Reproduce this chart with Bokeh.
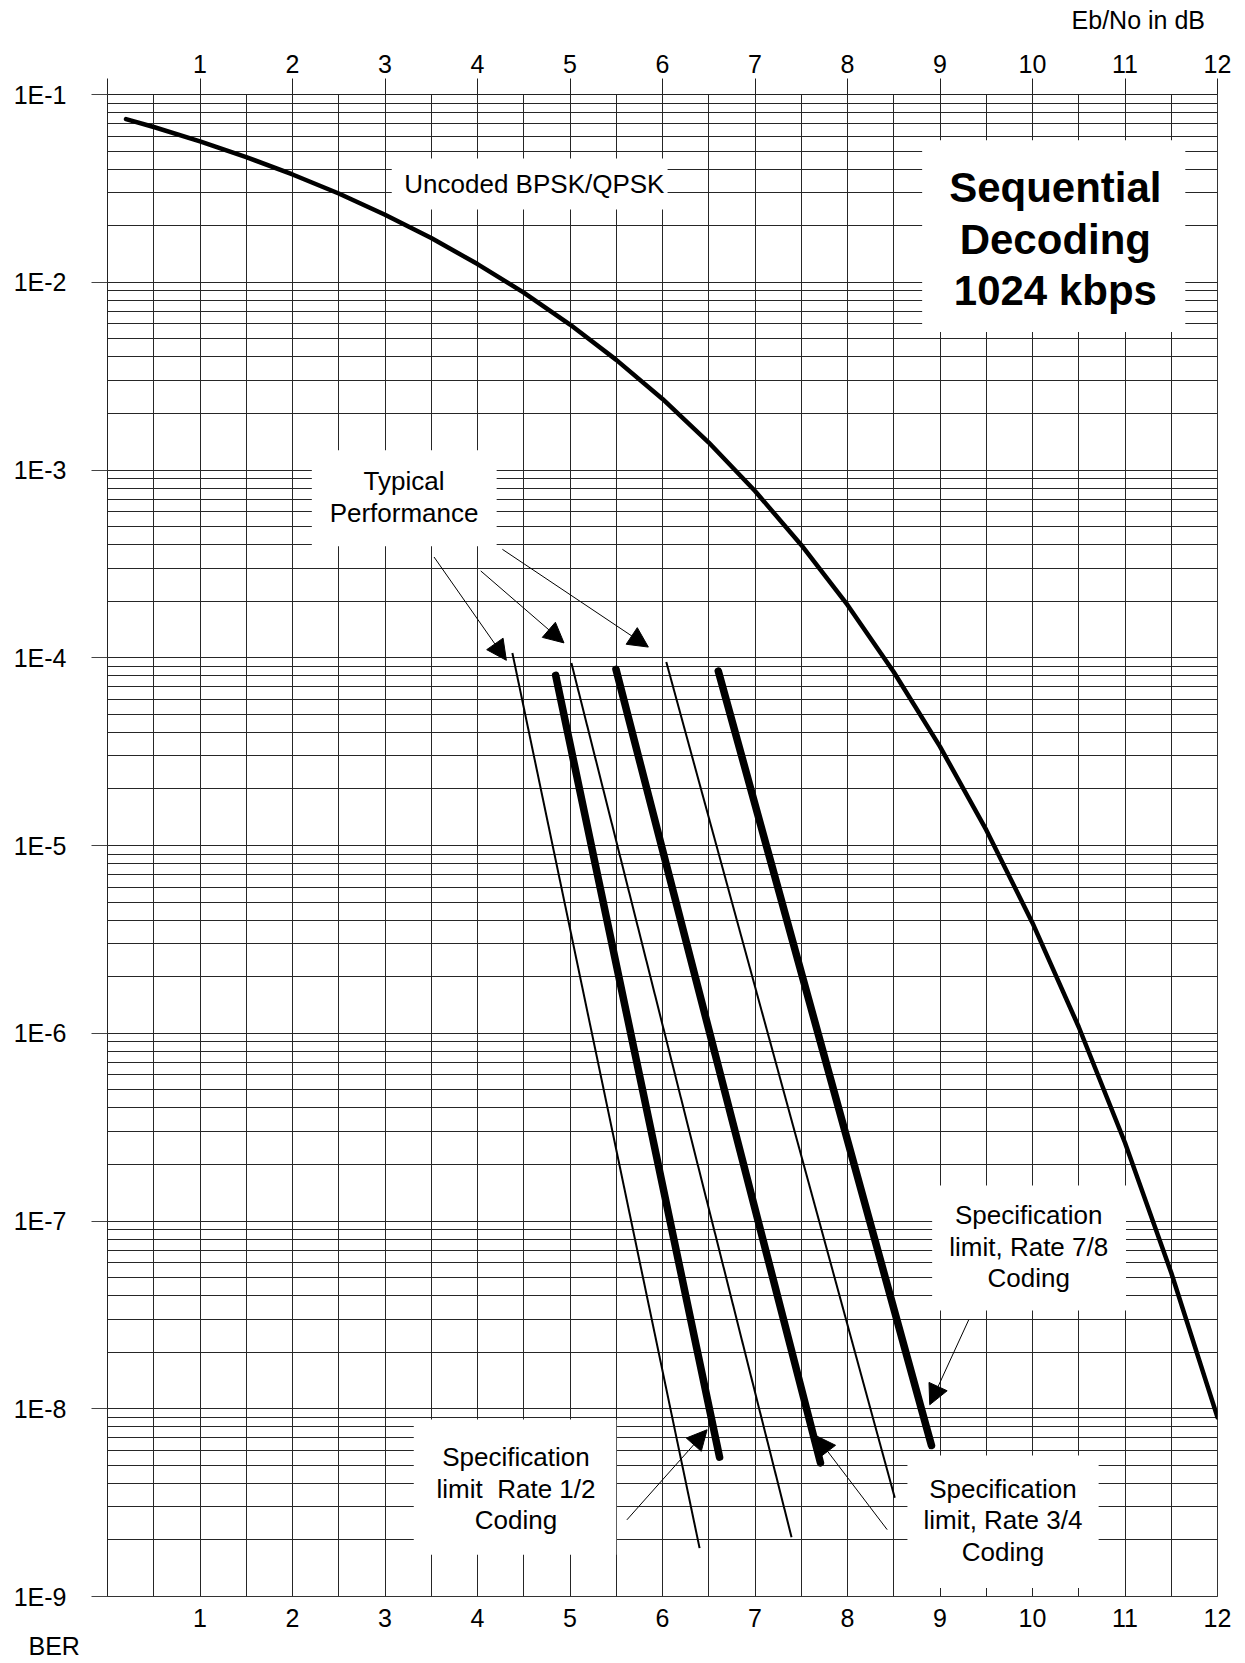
import numpy as np
from bokeh.plotting import figure
from bokeh.models import (FixedTicker, LinearAxis, Range1d, Label, Arrow, NormalHead,
                          BoxAnnotation, Title, ColumnDataSource)
from bokeh.embed import file_html
from bokeh.resources import INLINE

# ---------------- data ----------------
uncoded_ebno = [0.2, 0.5, 1.0, 1.5, 2.0, 2.5, 3.0, 3.5, 4.0, 4.5, 5.0, 5.5, 6.0,
                6.5, 7.0, 7.5, 8.0, 8.5, 9.0, 9.5, 10.0, 10.5, 11.0, 11.5, 12.0]
uncoded_ber = [7.4e-2, 6.71e-2, 5.63e-2, 4.64e-2, 3.75e-2, 2.97e-2, 2.29e-2, 1.72e-2,
               1.25e-2, 8.8e-3, 5.95e-3, 3.86e-3, 2.39e-3, 1.40e-3, 7.73e-4, 3.99e-4,
               1.91e-4, 8.4e-5, 3.36e-5, 1.21e-5, 3.87e-6, 1.08e-6, 2.61e-7, 5.3e-8, 9.0e-9]

# typical performance (thin lines)
typical_ebno = [[4.377, 6.401], [5.015, 7.395], [6.041, 8.511]]
typical_ber = [[1.06e-4, 1.81e-9], [9.38e-5, 2.07e-9], [9.48e-5, 3.36e-9]]

# specification limits (thick lines): rate 1/2, 3/4, 7/8
spec_ebno = [[4.845, 6.617], [5.497, 7.708], [6.603, 8.908]]
spec_ber = [[8.06e-5, 5.52e-9], [8.68e-5, 5.15e-9], [8.50e-5, 6.37e-9]]

x_ticks = list(range(0, 13))
x_minor = [i + 0.5 for i in range(12)]
y_ticks = [1e-9, 1e-8, 1e-7, 1e-6, 1e-5, 1e-4, 1e-3, 1e-2, 1e-1]
y_tick_labels = ["1E-9", "1E-8", "1E-7", "1E-6", "1E-5", "1E-4", "1E-3", "1E-2", "1E-1"]
y_minor = [m * d for d in y_ticks[:-1] for m in range(2, 10)]

x_title = "Eb/No in dB"
y_title = "BER"

# annotation boxes (white backgrounds) and texts
box_left = [3.073, 8.807, 2.209, 8.915, 3.311, 8.648]
box_right = [6.055, 11.652, 4.207, 11.011, 5.5, 10.715]
box_top = [0.0456, 0.0571, 1.274e-3, 1.546e-7, 8.77e-9, 5.64e-9]
box_bottom = [0.0244, 0.00544, 3.92e-4, 3.34e-8, 1.67e-9, 1.11e-9]

texts = ["Uncoded BPSK/QPSK", "Sequential\nDecoding\n1024 kbps", "Typical\nPerformance",
         "Specification\nlimit, Rate 7/8\nCoding", "Specification\nlimit\u00a0 Rate 1/2\nCoding",
         "Specification\nlimit, Rate 3/4\nCoding"]
text_x = [4.615, 10.247, 3.206, 9.959, 4.416, 9.680]
text_y = [0.0334, 0.01694, 7.16e-4, 7.31e-8, 3.76e-9, 2.54e-9]
text_bold = [False, True, False, False, False, False]

arrow_x0 = [3.530, 4.035, 4.269, 5.615, 8.429, 9.311]
arrow_y0 = [3.44e-4, 2.90e-4, 3.78e-4, 2.56e-9, 2.27e-9, 2.98e-8]
arrow_x1 = [4.312, 4.935, 5.847, 6.482, 7.654, 8.889]
arrow_y1 = [9.69e-5, 1.20e-4, 1.14e-4, 7.73e-9, 7.21e-9, 1.05e-8]

FONT = "Liberation Sans"
GRID = "#262626"

p = figure(width=1245, height=1663, x_range=Range1d(0, 12), y_range=Range1d(1e-9, 1e-1),
           y_axis_type="log", x_axis_location="above", output_backend="svg",
           toolbar_location=None, min_border_left=107, min_border_right=28,
           min_border_top=94, min_border_bottom=67)

p.outline_line_color = "#333333"
p.outline_line_width = 1

# top axis (the Eb/No title is its label, pushed to the right with no-break spaces)
top = p.xaxis[0]
top.ticker = FixedTicker(ticks=x_ticks, minor_ticks=x_minor)
top.major_label_overrides = {0: ""}
top.major_tick_out = 16
top.major_tick_in = 0
top.minor_tick_out = 0
top.minor_tick_in = 0
top.major_tick_line_color = "#222222"
top.axis_line_color = "#222222"
top.major_label_standoff = 6
top.major_label_text_font = FONT
top.major_label_text_font_size = "25px"
top.major_label_text_color = "black"
top.axis_label = "\u00a0" * 137 + x_title
top.axis_label_align = "center"
top.axis_label_standoff = 18
top.axis_label_text_font = FONT
top.axis_label_text_font_size = "25px"
top.axis_label_text_font_style = "normal"
top.axis_label_text_color = "black"

# bottom axis
bottom = LinearAxis(ticker=FixedTicker(ticks=x_ticks[1:]))
bottom.major_tick_out = 0
bottom.major_tick_in = 0
bottom.minor_tick_out = 0
bottom.minor_tick_in = 0
bottom.axis_line_color = "#333333"
bottom.major_label_standoff = 12
bottom.major_label_text_font = FONT
bottom.major_label_text_font_size = "25px"
bottom.major_label_text_color = "black"
p.add_layout(bottom, "below")

# left axis
left = p.yaxis[0]
left.ticker = FixedTicker(ticks=y_ticks, minor_ticks=y_minor)
left.major_label_overrides = dict(zip(y_ticks, y_tick_labels))
left.major_tick_out = 16
left.major_tick_in = 0
left.minor_tick_out = 0
left.minor_tick_in = 0
left.major_tick_line_color = "#444444"
left.axis_line_color = "#222222"
left.major_label_standoff = 25
left.major_label_text_font = FONT
left.major_label_text_font_size = "25px"
left.major_label_text_color = "black"

# grids
p.xgrid.ticker = FixedTicker(ticks=x_ticks, minor_ticks=x_minor)
p.xgrid.grid_line_color = GRID
p.xgrid.minor_grid_line_color = GRID
p.xgrid.grid_line_width = 1
p.ygrid.ticker = FixedTicker(ticks=y_ticks, minor_ticks=y_minor)
p.ygrid.grid_line_color = GRID
p.ygrid.minor_grid_line_color = GRID
p.ygrid.grid_line_width = 1

# "BER" below the chart, at left
ber_title = Title(text=y_title, align="left", offset=-79, standoff=0, text_color="black",
                  text_font=FONT, text_font_size="25px", text_font_style="normal")
p.add_layout(ber_title, "below")

# white boxes behind texts
for l, r, t, b in zip(box_left, box_right, box_top, box_bottom):
    p.add_layout(BoxAnnotation(left=l, right=r, top=t, bottom=b, fill_color="white",
                               fill_alpha=1.0, line_color=None, level="underlay"))

# curves
p.line(uncoded_ebno, uncoded_ber, line_color="black", line_width=4.5, line_cap="round",
       line_join="round")
p.multi_line(typical_ebno, typical_ber, line_color="black", line_width=2)
p.multi_line(spec_ebno, spec_ber, line_color="black", line_width=7.5, line_cap="round")

# arrows
arrow_src = ColumnDataSource(dict(x0=arrow_x0, y0=arrow_y0, x1=arrow_x1, y1=arrow_y1))
p.add_layout(Arrow(x_start="x0", y_start="y0", x_end="x1", y_end="y1", source=arrow_src,
                   line_color="black", line_width=1,
                   end=NormalHead(size=20, fill_color="black", line_color="black",
                                  line_width=1)))

# texts
for t, x, y, bold in zip(texts, text_x, text_y, text_bold):
    p.add_layout(Label(x=x, y=y, text=t, text_align="center", text_baseline="middle",
                       text_font=FONT,
                       text_font_size="42px" if bold else "26px",
                       text_font_style="bold" if bold else "normal",
                       text_line_height=1.10 if bold else 1.06,
                       text_color="black"))

open("out.html", "w").write(file_html(p, INLINE))
